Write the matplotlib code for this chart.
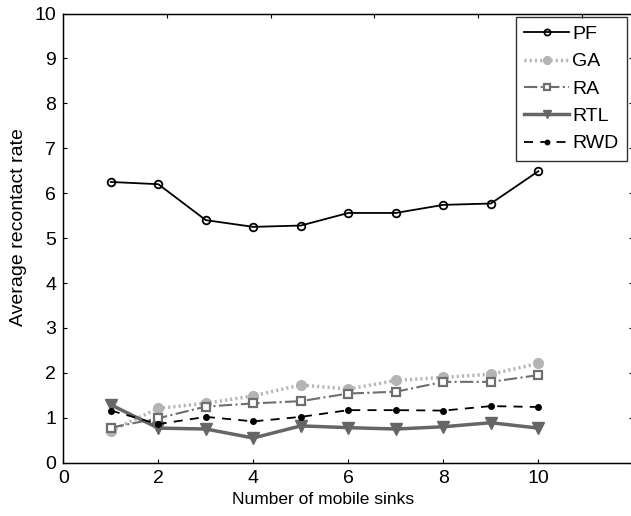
import matplotlib
matplotlib.use('Agg')
from matplotlib import pyplot as plt

plt.rcParams['font.family'] = ['Liberation Sans', 'DejaVu Sans']

sinks = [1, 2, 3, 4, 5, 6, 7, 8, 9, 10]

pf = [6.25, 6.20, 5.40, 5.25, 5.28, 5.56, 5.56, 5.74, 5.77, 6.49]
ga = [0.71, 1.21, 1.32, 1.49, 1.73, 1.64, 1.83, 1.90, 1.97, 2.21]
ra = [0.78, 0.99, 1.25, 1.32, 1.37, 1.54, 1.58, 1.80, 1.80, 1.95]
rtl = [1.29, 0.77, 0.75, 0.55, 0.82, 0.78, 0.75, 0.80, 0.89, 0.77]
rwd = [1.16, 0.86, 1.02, 0.92, 1.02, 1.17, 1.17, 1.16, 1.26, 1.24]

xticks = [0, 2, 4, 6, 8, 10]
yticks = list(range(0, 11))

fig = plt.figure(figsize=(6.31, 5.16), dpi=100)
ax = fig.add_axes([0.1003, 0.1033, 0.9035, 0.8705])

ax.plot(sinks, pf, color='black', lw=1.3, marker='o', ms=5.5,
        mfc='none', mec='black', mew=1.3, label='PF')
ax.plot(sinks, ga, color='#b4b4b4', lw=2.5, ls=(0, (0.6, 0.9)), marker='o', ms=7,
        mfc='#b4b4b4', mec='#b4b4b4', label='GA')
ax.plot(sinks, ra, color='#6e6e6e', lw=1.5, ls='-.', marker='s', ms=5.5,
        mfc='white', mec='#6e6e6e', mew=1.6, label='RA')
ax.plot(sinks, rtl, color='#666666', lw=2.5, marker='v', ms=8,
        mfc='#666666', mec='#666666', label='RTL')
ax.plot(sinks, rwd, color='black', lw=1.3, ls=(0, (5, 4)), marker='o', ms=4,
        mfc='black', mec='black', label='RWD')

ax.set_xlim(0, 12)
ax.set_ylim(0, 10)
ax.set_xticks(xticks)
ax.set_yticks(yticks)
ax.tick_params(direction='in', length=3, labelsize=14, right=True, top=False, pad=5)
for s in ax.spines.values():
    s.set_linewidth(1.0)

# top axis carries its own (differently spaced) tick marks
top = ax.twiny()
top.set_xlim(0, 11)
top.set_xticks(xticks[1:])
top.tick_params(direction='in', length=3, labeltop=False)

ax.set_xlabel('Number of mobile sinks', fontsize=12.5)
ax.set_ylabel('Average recontact rate', fontsize=14)
ax.xaxis.set_label_coords(0.455, -0.066)
ax.yaxis.set_label_coords(-0.064, 0.525)

leg = ax.legend(loc='upper right', bbox_to_anchor=(0.989, 0.993),
                fontsize=14, frameon=True, fancybox=False, edgecolor='black',
                handlelength=2.3, handletextpad=0.15, borderpad=0.45,
                labelspacing=0.5, borderaxespad=0, markerscale=0.8)
leg.get_frame().set_linewidth(1.0)

fig.savefig('out.png', dpi=100)
